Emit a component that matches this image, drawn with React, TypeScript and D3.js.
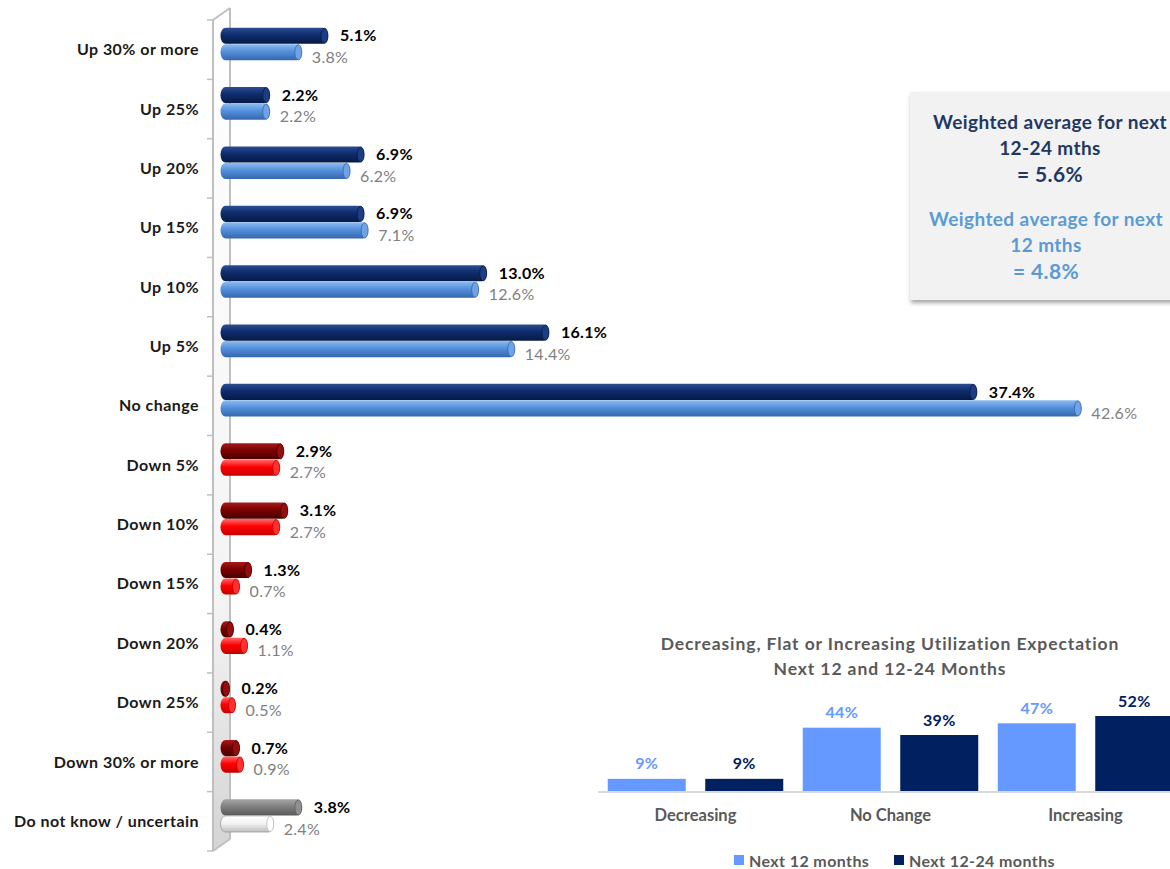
import { useEffect } from "react";
import * as d3 from "d3";

const FONT = "Lato, 'Open Sans', sans-serif";

const categories = [
  "Up 30% or more",
  "Up 25%",
  "Up 20%",
  "Up 15%",
  "Up 10%",
  "Up 5%",
  "No change",
  "Down 5%",
  "Down 10%",
  "Down 15%",
  "Down 20%",
  "Down 25%",
  "Down 30% or more",
  "Do not know / uncertain",
];
const kinds = ["up", "up", "up", "up", "up", "up", "up", "down", "down", "down", "down", "down", "down", "unknown"];
const next1224 = [5.1, 2.2, 6.9, 6.9, 13.0, 16.1, 37.4, 2.9, 3.1, 1.3, 0.4, 0.2, 0.7, 3.8];
const next12 = [3.8, 2.2, 6.2, 7.1, 12.6, 14.4, 42.6, 2.7, 2.7, 0.7, 1.1, 0.5, 0.9, 2.4];

const summaryCats = ["Decreasing", "No Change", "Increasing"];
const summary12 = [9, 44, 47];
const summary1224 = [9, 39, 52];

const boxLines1224 = ["Weighted average for next", "12-24 mths", "= 5.6%"];
const boxLines12 = ["Weighted average for next", "12 mths", "= 4.8%"];

// gradient stops per series/kind: [top, mid, bottom, cap]
const PAL: Record<string, string[]> = {
  "up-dark": ["#2c4d94", "#0e2c6c", "#061a45", "#1d3d82"],
  "up-light": ["#8dbcf0", "#5490dc", "#3567ad", "#6fa3e6"],
  "down-dark": ["#a81a1a", "#7a0000", "#4a0000", "#950d0d"],
  "down-light": ["#ff6a6a", "#ff0000", "#c40000", "#ff3030"],
  "unknown-dark": ["#a6a6a6", "#7f7f7f", "#595959", "#8f8f8f"],
  "unknown-light": ["#ffffff", "#f4f4f4", "#bdbdbd", "#ffffff"],
};

export default function App() {
  useEffect(() => {
    document.body.style.margin = "0";
  }, []);

  const W = 1170;
  const H = 869;

  const y = d3.scaleBand<string>().domain(categories).range([20, 851]);
  const x = d3.scaleLinear().domain([0, 45]).range([225.5, 225.5 + 45 * 20.09]);
  const sub = d3
    .scaleBand<string>()
    .domain(["dark", "light"])
    .range([y.bandwidth() * 0.13, y.bandwidth() * 0.68])
    .paddingInner(0.02);
  const bh = sub.bandwidth();

  const sx = d3.scaleBand<string>().domain(summaryCats).range([598, 1183]);
  const sxi = d3
    .scaleBand<string>()
    .domain(["n12", "n1224"])
    .range([0, sx.bandwidth()])
    .paddingInner(0.2)
    .paddingOuter(0.1);
  const sy = d3.scaleLinear().domain([0, 52]).range([792, 716]);

  const wallTop = y.range()[0];
  const wallBot = y.range()[1];

  return (
    <svg width={W} height={H} style={{ display: "block", background: "#fff" }} fontFamily={FONT}>
      <defs>
        {Object.entries(PAL).map(([k, c]) => (
          <linearGradient key={k} id={`g-${k}`} x1="0" y1="0" x2="0" y2="1">
            <stop offset="0" stopColor={c[0]} />
            <stop offset="0.45" stopColor={c[1]} />
            <stop offset="1" stopColor={c[2]} />
          </linearGradient>
        ))}
        <linearGradient id="wall" x1="0" y1="0" x2="0" y2="1">
          <stop offset="0" stopColor="#ffffff" />
          <stop offset="0.7" stopColor="#f4f4f4" />
          <stop offset="1" stopColor="#d4d4d4" />
        </linearGradient>
        <filter id="shadow" x="-10%" y="-10%" width="130%" height="130%">
          <feDropShadow dx="1" dy="3" stdDeviation="2" floodColor="#000" floodOpacity="0.35" />
        </filter>
      </defs>

      {/* 3D wall */}
      <polygon
        points={`213,${wallTop} 230,${wallTop - 12} 230,${wallBot - 12} 213,${wallBot}`}
        fill="url(#wall)"
        stroke="none"
      />
      <line x1={213} x2={213} y1={wallTop} y2={wallBot} stroke="#bfbfbf" strokeWidth={2} />
      <line x1={230} x2={230} y1={wallTop - 12} y2={wallBot - 12} stroke="#bfbfbf" strokeWidth={2} />
      <line x1={213} x2={230} y1={wallTop} y2={wallTop - 12} stroke="#bfbfbf" strokeWidth={2} />
      <line x1={213} x2={230} y1={wallBot} y2={wallBot - 12} stroke="#bfbfbf" strokeWidth={2} />
      {categories.map((c) => (
        <line key={"t" + c} x1={207} x2={213} y1={y(c)!} y2={y(c)!} stroke="#bfbfbf" strokeWidth={1.5} />
      ))}
      <line x1={207} x2={213} y1={wallBot} y2={wallBot} stroke="#bfbfbf" strokeWidth={1.5} />

      {/* category labels */}
      {categories.map((c) => (
        <text
          key={"l" + c}
          x={199}
          y={y(c)! + y.bandwidth() / 2}
          dy="0.35em"
          textAnchor="end"
          fontWeight="bold"
          fontSize={16}
          letterSpacing={0.45}
          fill="#1a1a1a"
        >
          {c}
        </text>
      ))}

      {/* bars */}
      {categories.map((c, i) => {
        const items = [
          { s: "dark", v: next1224[i] },
          { s: "light", v: next12[i] },
        ];
        return (
          <g key={"b" + c}>
            {items.map(({ s, v }) => {
              const pal = PAL[`${kinds[i]}-${s}`];
              const by = y(c)! + sub(s)!;
              const x0 = x(0) - 5;
              const x1 = x(v);
              return (
                <g key={s}>
                  <rect
                    x={x0}
                    y={by}
                    width={Math.max(x1 - x0, 8)}
                    height={bh}
                    rx={5}
                    ry={bh / 2}
                    fill={`url(#g-${kinds[i]}-${s})`}
                    stroke={kinds[i] === "unknown" && s === "light" ? "#9a9a9a" : "none"}
                    strokeWidth={0.8}
                  />
                  <ellipse
                    cx={Math.max(x1, x0 + 8) - 3.5}
                    cy={by + bh / 2}
                    rx={3.5}
                    ry={bh / 2 - 0.5}
                    fill={pal[3]}
                    stroke={pal[2]}
                    strokeWidth={0.8}
                  />
                </g>
              );
            })}
            <text
              x={x(next1224[i]) + 12}
              y={y(c)! + sub("dark")! + bh / 2}
              dy="0.35em"
              fontWeight="bold"
              fontSize={16}
              letterSpacing={0.3}
              fill="#000"
            >
              {next1224[i].toFixed(1)}%
            </text>
            <text
              x={x(next12[i]) + 10}
              y={y(c)! + sub("light")! + bh / 2 + 5}
              dy="0.35em"
              fontSize={16}
              letterSpacing={0.3}
              fill="#808080"
            >
              {next12[i].toFixed(1)}%
            </text>
          </g>
        );
      })}

      {/* weighted average box */}
      <rect x={910} y={92} width={275} height={208} fill="#f2f2f2" filter="url(#shadow)" />
      {boxLines1224.map((t, i) => (
        <text
          key={"a" + i}
          x={1050}
          y={122 + i * 26 + (i === 2 ? 1 : 0)}
          dy="0.35em"
          textAnchor="middle"
          fontWeight="bold"
          fontSize={i === 2 ? 21 : 19}
          letterSpacing={0.4}
          fill="#1f3864"
        >
          {t}
        </text>
      ))}
      {boxLines12.map((t, i) => (
        <text
          key={"b" + i}
          x={1046}
          y={219 + i * 26 + (i === 2 ? 1 : 0)}
          dy="0.35em"
          textAnchor="middle"
          fontWeight="bold"
          fontSize={i === 2 ? 21 : 19}
          letterSpacing={0.4}
          fill="#5b9bd5"
        >
          {t}
        </text>
      ))}

      {/* inset summary chart */}
      <text x={890} y={644} dy="0.35em" textAnchor="middle" fontWeight="bold" fontSize={17.5} letterSpacing={0.9} fill="#595959">
        Decreasing, Flat or Increasing Utilization Expectation
      </text>
      <text x={890} y={669} dy="0.35em" textAnchor="middle" fontWeight="bold" fontSize={17.5} letterSpacing={0.9} fill="#595959">
        Next 12 and 12-24 Months
      </text>
      {summaryCats.map((c, i) => {
        const bars = [
          { k: "n12", v: summary12[i], fill: "#6699ff" },
          { k: "n1224", v: summary1224[i], fill: "#002060" },
        ];
        return (
          <g key={"s" + c}>
            {bars.map((b) => (
              <g key={b.k}>
                <rect
                  x={sx(c)! + sxi(b.k)!}
                  y={sy(b.v)}
                  width={sxi.bandwidth()}
                  height={sy(0) - sy(b.v)}
                  fill={b.fill}
                />
                <text
                  x={sx(c)! + sxi(b.k)! + sxi.bandwidth() / 2}
                  y={sy(b.v) - 15}
                  dy="0.35em"
                  textAnchor="middle"
                  fontWeight="bold"
                  fontSize={16}
                  letterSpacing={0.3}
                  fill={b.fill}
                >
                  {b.v}%
                </text>
              </g>
            ))}
            <text
              x={sx(c)! + sx.bandwidth() / 2}
              y={815}
              dy="0.35em"
              textAnchor="middle"
              fontWeight="bold"
              fontSize={16.5}
              fill="#595959"
            >
              {c}
            </text>
          </g>
        );
      })}
      <line x1={598} x2={1170} y1={sy(0)} y2={sy(0)} stroke="#d9d9d9" strokeWidth={2} />

      {/* legend */}
      <rect x={734} y={855} width={10} height={10} fill="#6699ff" />
      <text x={749} y={861} dy="0.35em" fontWeight="bold" fontSize={16} letterSpacing={0.4} fill="#595959">
        Next 12 months
      </text>
      <rect x={894} y={855} width={10} height={10} fill="#002060" />
      <text x={909} y={861} dy="0.35em" fontWeight="bold" fontSize={16} letterSpacing={0.4} fill="#595959">
        Next 12-24 months
      </text>
    </svg>
  );
}
